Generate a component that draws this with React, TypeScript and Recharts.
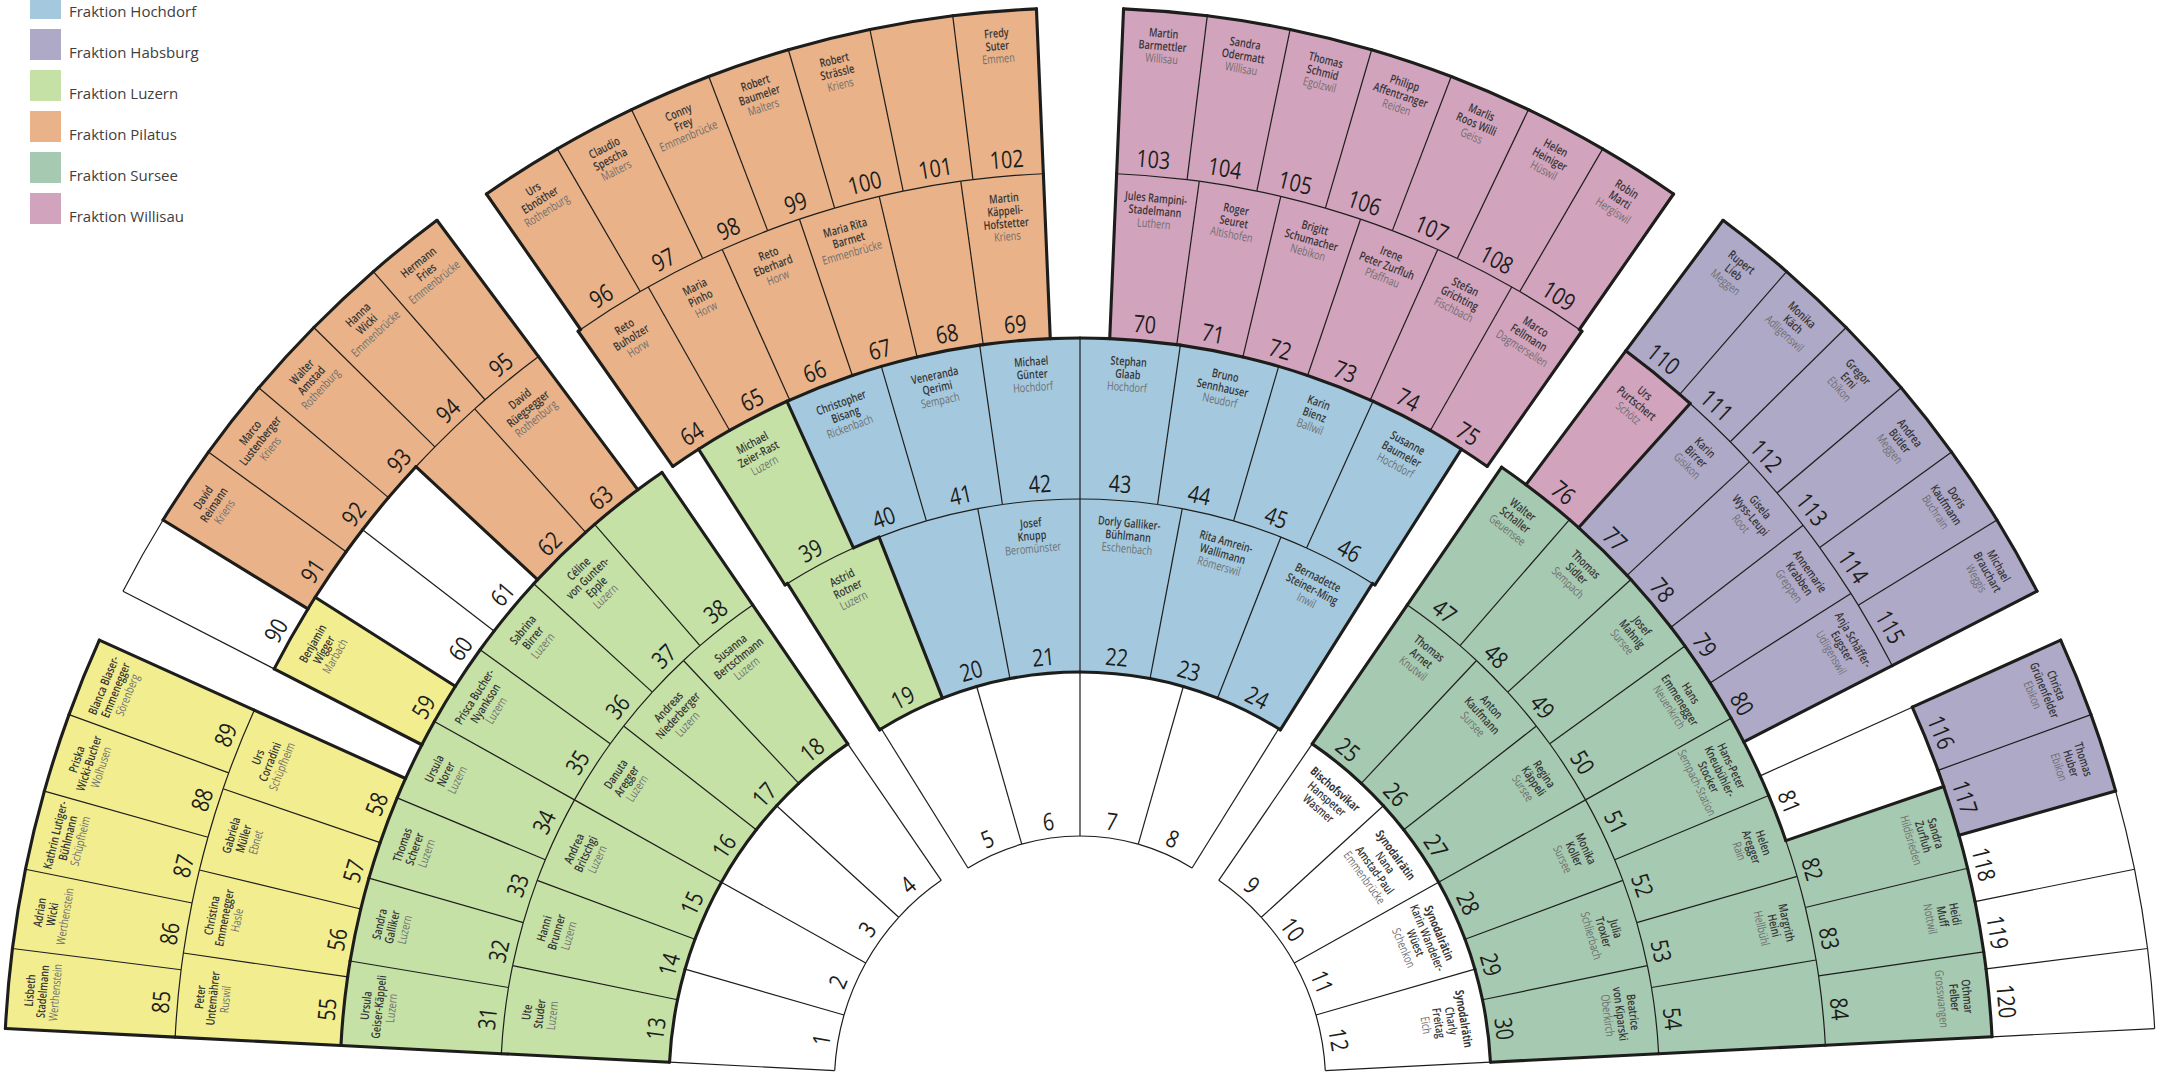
import React from 'react';
import { PieChart, Pie, Cell, Legend } from 'recharts';

const CHART_W = 2163;
const CHART_H = 1074;

// ---------- data ----------
const legendKeys = ['H', 'B', 'L', 'P', 'S', 'I'];
const legendLabels = ['Fraktion Hochdorf', 'Fraktion Habsburg', 'Fraktion Luzern', 'Fraktion Pilatus', 'Fraktion Sursee', 'Fraktion Willisau'];

const fractionColors: Record<string, string> = {
  H: '#a4c9df', B: '#aea9c7', L: '#c5e1a6', P: '#e9b288', S: '#a6c9b1', I: '#d2a3bd', E: '#f2ee8f', W: '#ffffff',
};

// fraction of each seat 1..120 (W = free seat, E = yellow group)
const seatFractions =
  'WWWWWWWWWWWW' + // 1-12
  'LLLLLL' + // 13-18
  'LHHHHH' + // 19-24
  'SSSSSS' + // 25-30
  'LLLLLLLL' + // 31-38
  'LHHHHHHH' + // 39-46
  'SSSSSSSS' + // 47-54
  'EEEEEWWPP' + // 55-63
  'PPPPPPIIIIII' + // 64-75
  'IBBBBWSSS' + // 76-84
  'EEEEEWPPPPP' + // 85-95
  'PPPPPPPIIIIIII' + // 96-109
  'BBBBBBBBWWW'; // 110-120

const officials: [number, string, string][] = [
  [9, '*Bischofsvikar|Hanspeter|Wasmer', ''],
  [10, '*Synodalrätin|Nana|Amstad-Paul', 'Emmenbrücke'],
  [11, '*Synodalrätin|Karin Wandeler-|Wüest', 'Schenkon'],
  [12, '*Synodalrätin|Charly|Freitag', 'Eich'],
];
const peopleLuzern: [number, string, string][] = [
  [13, 'Ute|Studer', 'Luzern'], [14, 'Hanni|Brunner', 'Luzern'], [15, 'Andrea|Britschgi', 'Luzern'],
  [16, 'Danuta|Aregger', 'Luzern'], [17, 'Andreas|Niederberger', 'Luzern'], [18, 'Susanna|Bertschmann', 'Luzern'],
  [19, 'Astrid|Rotner', 'Luzern'], [31, 'Ursula|Geiser-Käppeli', 'Luzern'], [32, 'Sandra|Galliker', 'Luzern'],
  [33, 'Thomas|Scherer', 'Luzern'], [34, 'Ursula|Norer', 'Luzern'], [35, 'Prisca Bucher-|Nyankson', 'Luzern'],
  [36, 'Sabrina|Birrer', 'Luzern'], [37, 'Céline|von Gunten-|Epple', 'Luzern'], [39, 'Michael|Zeier-Rast', 'Luzern'],
];
const peopleYellow: [number, string, string][] = [
  [55, 'Peter|Untemährer', 'Ruswil'], [56, 'Christina|Emmenegger', 'Hasle'], [57, 'Gabriela|Müller', 'Ebnet'],
  [58, 'Urs|Corradini', 'Schüpfheim'], [59, 'Benjamin|Wigger', 'Marbach'], [85, 'Lisbeth|Stadelmann', 'Werthenstein'],
  [86, 'Adrian|Wicki', 'Werthenstein'], [87, 'Kathrin Lutiger-|Bühlmann', 'Schüpfheim'],
  [88, 'Priska|Wicki-Bucher', 'Wolhusen'], [89, 'Blanca Blaser-|Emmenegger', 'Sörenberg'],
];
const peoplePilatus: [number, string, string][] = [
  [63, 'David|Rüegsegger', 'Rothenburg'], [64, 'Reto|Buholzer', 'Horw'], [65, 'Maria|Pinho', 'Horw'],
  [66, 'Reto|Eberhard', 'Horw'], [67, 'Maria Rita|Barmet', 'Emmenbrücke'], [69, 'Martin|Käppeli-|Hofstetter', 'Kriens'],
  [91, 'David|Reimann', 'Kriens'], [92, 'Marco|Lustenberger', 'Kriens'], [93, 'Walter|Amstad', 'Rothenburg'],
  [94, 'Hanna|Wicki', 'Emmenbrücke'], [95, 'Hermann|Fries', 'Emmenbrücke'], [96, 'Urs|Ebnöther', 'Rothenburg'],
  [97, 'Claudio|Spescha', 'Malters'], [98, 'Conny|Frey', 'Emmenbrücke'], [99, 'Robert|Baumeler', 'Malters'],
  [100, 'Robert|Strässle', 'Kriens'], [102, 'Fredy|Suter', 'Emmen'],
];
const peopleHochdorf: [number, string, string][] = [
  [21, 'Josef|Knupp', 'Beromünster'], [22, 'Dorly Galliker-|Bühlmann', 'Eschenbach'],
  [23, 'Rita Amrein-|Wallimann', 'Römerswil'], [24, 'Bernadette|Steiner-Ming', 'Inwil'],
  [40, 'Christopher|Bisang', 'Rickenbach'], [41, 'Veneranda|Qerimi', 'Sempach'], [42, 'Michael|Günter', 'Hochdorf'],
  [43, 'Stephan|Glaab', 'Hochdorf'], [44, 'Bruno|Sennhauser', 'Neudorf'], [45, 'Karin|Bienz', 'Ballwil'],
  [46, 'Susanne|Baumeler', 'Hochdorf'],
];
const peopleWillisau: [number, string, string][] = [
  [70, 'Jules Rampini-|Stadelmann', 'Luthern'], [71, 'Roger|Seuret', 'Altishofen'], [72, 'Brigitt|Schumacher', 'Nebikon'],
  [73, 'Irene|Peter Zurfluh', 'Pfaffnau'], [74, 'Stefan|Grichting', 'Fischbach'], [75, 'Marco|Fellmann', 'Dagmersellen'],
  [76, 'Urs|Purtschert', 'Schötz'], [103, 'Martin|Barmettler', 'Willisau'], [104, 'Sandra|Odermatt', 'Willisau'],
  [105, 'Thomas|Schmid', 'Egolzwil'], [106, 'Philipp|Affentranger', 'Reiden'], [107, 'Marlis|Roos Willi', 'Geiss'],
  [108, 'Helen|Heiniger', 'Hüswil'], [109, 'Robin|Marti', 'Hergiswil'],
];
const peopleSursee: [number, string, string][] = [
  [25, 'Thomas|Arnet', 'Knutwil'], [26, 'Anton|Kaufmann', 'Sursee'], [27, 'Regina|Käppeli', 'Sursee'],
  [28, 'Monika|Koller', 'Sursee'], [29, 'Julia|Troxler', 'Schlierbach'], [30, 'Beatrice|von Kiparski', 'Oberkirch'],
  [47, 'Walter|Schaller', 'Geuensee'], [48, 'Thomas|Sidler', 'Sempach'], [49, 'Josef|Mahnig', 'Sursee'],
  [50, 'Hans|Emmenegger', 'Neuenkirch'], [51, 'Hans-Peter|Kneubühler-|Stocker', 'Sempach-Station'],
  [52, 'Helen|Aregger', 'Rain'], [53, 'Margrith|Heini', 'Hellbühl'], [82, 'Sandra|Zurfluh', 'Hildisrieden'],
  [83, 'Heidi|Muff', 'Nottwil'], [84, 'Othmar|Felber', 'Grosswangen'],
];
const peopleHabsburg: [number, string, string][] = [
  [77, 'Karin|Birrer', 'Gisikon'], [78, 'Gisela|Wyss-Leupi', 'Root'], [79, 'Annemarie|Krabben', 'Greppen'],
  [80, 'Anja Schäffer-|Eugster', 'Udligenswil'], [110, 'Rupert|Lieb', 'Meggen'], [111, 'Monika|Käch', 'Adligenswil'],
  [112, 'Gregor|Erni', 'Ebikon'], [113, 'Andrea|Bütler', 'Meggen'], [114, 'Doris|Kaufmann', 'Buchrain'],
  [115, 'Michael|Brauchart', 'Weggis'], [116, 'Christa|Grünenfelder', 'Ebikon'], [117, 'Thomas|Huber', 'Ebikon'],
];

// ---------- layout (geometry, not data) ----------
const wedgeGeom: Record<string, { cx: number; cy: number; r: number[] }> = {
  L: { cx: 1080, cy: 1083, r: [245.6, 411, 579.4, 740, 906, 1076] },
  C: { cx: 1080, cy: 1048, r: [212, 376, 549, 710, 875, 1040] },
  R: { cx: 1080, cy: 1083, r: [245.6, 411, 579.4, 746.3, 913.2, 1076] },
};

type Block = { wedge: string; row: number; first: number; last: number; a0: number; a1: number };
const blocks: Block[] = [
  { wedge: 'L', row: 0, first: 1, last: 4, a0: 177.1, a1: 124.4 },
  { wedge: 'C', row: 0, first: 5, last: 8, a0: 121.9, a1: 58.1 },
  { wedge: 'R', row: 0, first: 9, last: 12, a0: 55.6, a1: 2.9 },
  { wedge: 'L', row: 1, first: 13, last: 18, a0: 177.1, a1: 124.4 },
  { wedge: 'C', row: 1, first: 19, last: 24, a0: 122.2, a1: 57.8 },
  { wedge: 'R', row: 1, first: 25, last: 30, a0: 55.6, a1: 2.9 },
  { wedge: 'L', row: 2, first: 31, last: 38, a0: 177.1, a1: 124.4 },
  { wedge: 'C', row: 2, first: 39, last: 46, a0: 122.5, a1: 57.5 },
  { wedge: 'R', row: 2, first: 47, last: 54, a0: 55.6, a1: 2.9 },
  { wedge: 'L', row: 3, first: 55, last: 58, a0: 177.1, a1: 155.7 },
  { wedge: 'L', row: 3, first: 59, last: 63, a0: 152.8, a1: 126.7 },
  { wedge: 'C', row: 3, first: 64, last: 69, a0: 125.0, a1: 92.4 },
  { wedge: 'C', row: 3, first: 70, last: 75, a0: 87.6, a1: 55.0 },
  { wedge: 'R', row: 3, first: 76, last: 80, a0: 53.3, a1: 27.2 },
  { wedge: 'R', row: 3, first: 81, last: 84, a0: 24.3, a1: 2.9 },
  { wedge: 'L', row: 4, first: 85, last: 89, a0: 177.1, a1: 155.7 },
  { wedge: 'L', row: 4, first: 90, last: 95, a0: 152.8, a1: 126.7 },
  { wedge: 'C', row: 4, first: 96, last: 102, a0: 124.8, a1: 92.4 },
  { wedge: 'C', row: 4, first: 103, last: 109, a0: 87.6, a1: 55.2 },
  { wedge: 'R', row: 4, first: 110, last: 115, a0: 53.3, a1: 27.2 },
  { wedge: 'R', row: 4, first: 116, last: 120, a0: 24.3, a1: 2.9 },
];

const LINE = '#1d1d1b';
const THIN = 1.2;
const THICK = 3.1;
const FONT = '"Open Sans", "Noto Sans", sans-serif';
const NAME_SIZE = 12;
const NAME_SCALE = 0.76;
const NAME_LEAD = 12.8;
const NUM_SIZE = 24;
const NUM_SCALE = 0.82;

// ---------- derived lookups ----------
const people: Record<number, { name: string; place: string }> = {};
[officials, peopleLuzern, peopleYellow, peoplePilatus, peopleHochdorf, peopleWillisau, peopleSursee, peopleHabsburg]
  .forEach((list) => list.forEach(([n, name, place]) => { people[n] = { name, place }; }));

type Geo = { wedge: string; row: number; lo: number; hi: number; idx: number; n: number };
const seatGeo: Record<number, Geo> = {};
blocks.forEach((b) => {
  const n = b.last - b.first + 1;
  const step = (b.a0 - b.a1) / n;
  for (let i = 0; i < n; i++) {
    const hi = b.a0 - i * step;
    seatGeo[b.first + i] = { wedge: b.wedge, row: b.row, hi, lo: hi - step, idx: i, n };
  }
});

const fracOf = (s: number) => seatFractions[s - 1];
const colored = (f: string) => f !== 'W' && f !== '-';
const isThick = (a: string, b: string) => a !== b && (colored(a) || colored(b));

const seatAt = (w: string, r: number, a: number): number | null => {
  for (const k of Object.keys(seatGeo)) {
    const g = seatGeo[+k];
    if (g.wedge === w && g.row === r && a > g.lo && a < g.hi) return +k;
  }
  return null;
};

const segments = (w: string, r: number, lo: number, hi: number) => {
  const cuts = [lo, hi];
  for (const k of Object.keys(seatGeo)) {
    const g = seatGeo[+k];
    if (g.wedge === w && g.row === r) {
      if (g.lo > lo + 0.01 && g.lo < hi - 0.01) cuts.push(g.lo);
      if (g.hi > lo + 0.01 && g.hi < hi - 0.01) cuts.push(g.hi);
    }
  }
  cuts.sort((a, b) => a - b);
  const out: { lo: number; hi: number; f: string }[] = [];
  for (let i = 0; i < cuts.length - 1; i++) {
    if (cuts[i + 1] - cuts[i] < 0.01) continue;
    const s = seatAt(w, r, (cuts[i] + cuts[i + 1]) / 2);
    out.push({ lo: cuts[i], hi: cuts[i + 1], f: s ? fracOf(s) : '-' });
  }
  return out;
};

const RAD = Math.PI / 180;
const pt = (cx: number, cy: number, r: number, a: number): [number, number] => [cx + r * Math.cos(a * RAD), cy - r * Math.sin(a * RAD)];
const arcPath = (cx: number, cy: number, r: number, hi: number, lo: number) => {
  const [x1, y1] = pt(cx, cy, r, hi);
  const [x2, y2] = pt(cx, cy, r, lo);
  return `M${x1},${y1} A${r},${r} 0 0 1 ${x2},${y2}`;
};
const radPath = (cx: number, cy: number, r1: number, r2: number, a: number) => {
  const [x1, y1] = pt(cx, cy, r1, a);
  const [x2, y2] = pt(cx, cy, r2, a);
  return `M${x1},${y1} L${x2},${y2}`;
};

const seatLabel = (props: any) => {
  const { cx, cy, innerRadius: ri, outerRadius: ro, startAngle, endAngle, midAngle, payload } = props;
  const seat: number = payload.seat;
  const g = seatGeo[seat];
  const f = fracOf(seat);
  const thin: string[] = [];
  const thick: string[] = [];
  const add = (d: string, t: boolean) => (t ? thick : thin).push(d);

  segments(g.wedge, g.row - 1, g.lo, g.hi).forEach((s) => add(arcPath(cx, cy, ri, s.hi, s.lo), isThick(f, s.f)));
  segments(g.wedge, g.row + 1, g.lo, g.hi).filter((s) => s.f === '-').forEach((s) => add(arcPath(cx, cy, ro, s.hi, s.lo), isThick(f, '-')));
  const prev = g.idx === 0 ? '-' : fracOf(seat - 1);
  add(radPath(cx, cy, ri, ro, startAngle), isThick(f, prev));
  if (g.idx === g.n - 1) add(radPath(cx, cy, ri, ro, endAngle), isThick(f, '-'));

  const rot = 90 - midAngle;
  const [nx, ny] = pt(cx, cy, ri, midAngle);
  const [tx, ty] = pt(cx, cy, ro, midAngle);
  const info = people[seat];
  const lines: { t: string; bold: boolean; place: boolean }[] = [];
  if (info) {
    info.name.split('|').forEach((t) => lines.push({ t: t.replace('*', ''), bold: t.startsWith('*'), place: false }));
    if (info.place) lines.push({ t: info.place, bold: false, place: true });
  }
  return (
    <g>
      {thin.map((d, i) => <path key={'t' + i} d={d} fill="none" stroke={LINE} strokeWidth={THIN} />)}
      {thick.map((d, i) => <path key={'k' + i} d={d} fill="none" stroke={LINE} strokeWidth={THICK} strokeLinecap="round" />)}
      <g transform={`translate(${nx},${ny}) rotate(${rot})`}>
        <text transform={`translate(0,-8) scale(${NUM_SCALE},1)`} textAnchor="middle" fontFamily={FONT} fontSize={NUM_SIZE} fill="#1d1d1b">{seat}</text>
      </g>
      <g transform={`translate(${tx},${ty}) rotate(${rot})`}>
        {lines.map((l, i) => (
          <text key={i} transform={`translate(0,${26 + i * NAME_LEAD}) scale(${NAME_SCALE},1)`} textAnchor="middle"
            fontFamily={FONT} fontSize={NAME_SIZE} fontWeight={l.bold ? 700 : l.place ? 400 : 600}
            fill={l.place ? '#6e6e6e' : '#363636'}>{l.t}</text>
        ))}
      </g>
    </g>
  );
};

const blockData = blocks.map((b) => {
  const arr: { seat: number; v: number }[] = [];
  for (let s = b.first; s <= b.last; s++) arr.push({ seat: s, v: 1 });
  return arr;
});

const LegendBox = () => (
  <div style={{ position: 'relative', width: 300, height: 240, fontFamily: FONT }}>
    {legendKeys.map((k, i) => (
      <div key={k}>
        <div style={{ position: 'absolute', left: 30, top: -12 + i * 41, width: 31, height: 31, background: fractionColors[k] }} />
        <div style={{ position: 'absolute', left: 69, top: -12 + i * 41 + 13, fontSize: 15, color: '#404040', whiteSpace: 'nowrap', lineHeight: '20px' }}>{legendLabels[i]}</div>
      </div>
    ))}
  </div>
);

export default function App() {
  return (
    <div style={{ width: CHART_W, height: CHART_H, background: '#fff' }}>
      <style>{'body{margin:0;background:#fff}'}</style>
      <PieChart width={CHART_W} height={CHART_H} margin={{ top: 0, right: 0, bottom: 0, left: 0 }}>
        {blocks.map((b, i) => {
          const w = wedgeGeom[b.wedge];
          return (
            <Pie key={'f' + i} data={blockData[i]} dataKey="v" nameKey="seat" cx={w.cx} cy={w.cy}
              innerRadius={w.r[b.row]} outerRadius={w.r[b.row + 1]} startAngle={b.a0} endAngle={b.a1}
              stroke="none" isAnimationActive={false} legendType="none">
              {blockData[i].map((d) => <Cell key={d.seat} fill={fractionColors[fracOf(d.seat)]} stroke="none" />)}
            </Pie>
          );
        })}
        {blocks.map((b, i) => {
          const w = wedgeGeom[b.wedge];
          return (
            <Pie key={'o' + i} data={blockData[i]} dataKey="v" nameKey="seat" cx={w.cx} cy={w.cy}
              innerRadius={w.r[b.row]} outerRadius={w.r[b.row + 1]} startAngle={b.a0} endAngle={b.a1}
              fill="none" stroke="none" isAnimationActive={false} legendType="none"
              label={seatLabel} labelLine={false} />
          );
        })}
        <Legend content={() => <LegendBox />} wrapperStyle={{ left: 0, top: 0, width: 300, height: 240 }} />
      </PieChart>
    </div>
  );
}
